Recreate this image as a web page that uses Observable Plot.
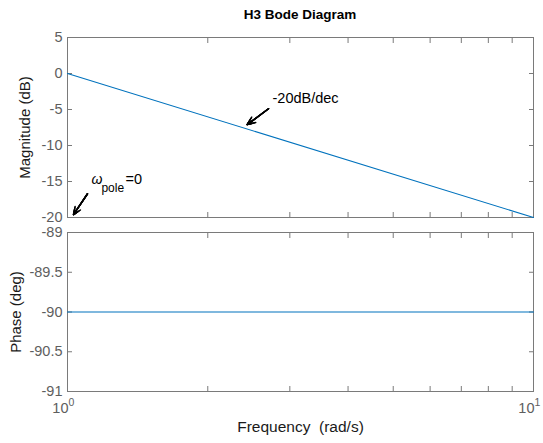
<!DOCTYPE html>
<html><head><meta charset="utf-8">
<script src="https://cdn.jsdelivr.net/npm/d3@7"></script>
<script src="https://cdn.jsdelivr.net/npm/@observablehq/plot@0.6"></script>
<style>
body{margin:0;background:#fff;font-family:"Liberation Sans",Arial,sans-serif;}
#title{height:30px;width:543px;position:relative;}
#title span{position:absolute;left:0;width:600px;text-align:center;top:7px;font-weight:bold;font-size:13.5px;color:#000;}
svg{display:block;overflow:visible;}
#chart svg:nth-child(2){margin-top:-15px;}
</style></head>
<body>
<div id="title"><span>H3 Bode Diagram</span></div>
<div id="chart"></div>
<script>
const freqs = [1, 10];
const magDb = [0, -20];
const phaseDeg = [-90, -90];
const magTicks = [-20, -15, -10, -5, 0, 5];
const phaseTicks = [-91, -90.5, -90, -89.5, -89];
const freqTicks = [1, 2, 3, 4, 5, 6, 7, 8, 9, 10];
const freqLabelTicks = [1, 10];
const freqLabelExp = ["0", "1"];
// annotations (data coordinates)
const slopeArrow = {x1: 2.70, y1: -4.9, x2: 2.43, y2: -7.1, text: "-20dB/dec"};
const poleArrow = {x1: 1.104, y1: -16.7, x2: 1.03, y2: -19.6};
const poleText = {x: 1.12, y: -15.3};

const frameColor = "#7a7a7a";
const tickColor = "#5e5e5e";
const font = "Liberation Sans, Arial, sans-serif";
const lineColor = "#0072BD";

function axes(yTicks, yFmt) {
  return [
    Plot.axisY({anchor: "left", ticks: yTicks, tickSize: -5, tickPadding: 10, stroke: frameColor, color: tickColor, fontSize: 14.5, tickFormat: yFmt, label: null}),
    Plot.axisY({anchor: "right", ticks: yTicks, tickSize: -5, tickFormat: () => "", stroke: frameColor, label: null}),
    Plot.axisX({anchor: "top", ticks: freqTicks, tickSize: -5, tickFormat: () => "", stroke: frameColor, label: null}),
    Plot.axisX({anchor: "bottom", ticks: freqTicks, tickSize: -5, tickFormat: () => "", stroke: frameColor, label: null}),
    Plot.frame({stroke: frameColor})
  ];
}

// filled-looking arrowhead: nested arrow heads
function filledArrow(d) {
  return [10, 8, 6, 4, 2].map(h => Plot.arrow([d], {x1: "x1", y1: "y1", x2: "x2", y2: "y2", stroke: "black", strokeWidth: 1.4, headLength: h, headAngle: 45}));
}

const magData = freqs.map((f, i) => ({f, v: magDb[i]}));
const phaseData = freqs.map((f, i) => ({f, v: phaseDeg[i]}));

const p1 = Plot.plot({
  width: 543, height: 202,
  marginTop: 7, marginBottom: 15, marginLeft: 67, marginRight: 10,
  style: {fontFamily: font, fontSize: "14.5px", background: "transparent", overflow: "visible"},
  x: {type: "log", domain: [1, 10]},
  y: {domain: [-20, 5]},
  marks: [
    ...axes(magTicks, d => d),
    Plot.line(magData, {x: "f", y: "v", stroke: lineColor, strokeWidth: 1.1}),
    ...filledArrow(slopeArrow),
    Plot.text([slopeArrow], {x: "x1", y: "y1", text: "text", textAnchor: "start", dx: 4, dy: -10, fontSize: 14.5, fill: "black"}),
    ...filledArrow(poleArrow),
    Plot.text([poleText], {x: "x", y: "y", text: () => "ω", textAnchor: "start", fontSize: 14, fontStyle: "italic", fill: "black", dx: 1, dy: -4}),
    Plot.text([poleText], {x: "x", y: "y", text: () => "pole", textAnchor: "start", fontSize: 12, fill: "black", dx: 11, dy: 4}),
    Plot.text([poleText], {x: "x", y: "y", text: () => "=0", textAnchor: "start", fontSize: 14.5, fill: "black", dx: 35, dy: -4}),
    Plot.text(["Magnitude (dB)"], {frameAnchor: "left", rotate: -90, dx: -42, fontSize: 15, fill: "#1a1a1a", textAnchor: "middle"})
  ]
});

const p2 = Plot.plot({
  width: 543, height: 226,
  marginTop: 15, marginBottom: 52, marginLeft: 67, marginRight: 10,
  style: {fontFamily: font, fontSize: "14.5px", background: "transparent", overflow: "visible"},
  x: {type: "log", domain: [1, 10]},
  y: {domain: [-91, -89]},
  marks: [
    ...axes(phaseTicks, d => String(d)),
    Plot.line(phaseData, {x: "f", y: "v", stroke: lineColor, strokeWidth: 1.1}),
    Plot.text(freqLabelTicks, {x: d => d, frameAnchor: "bottom", text: () => "10", textAnchor: "end", dx: 1, dy: 21, fontSize: 14.5, fill: tickColor}),
    Plot.text(freqLabelTicks, {x: d => d, frameAnchor: "bottom", text: (d, i) => freqLabelExp[i], textAnchor: "start", dx: 1, dy: 14, fontSize: 10.5, fill: tickColor}),
    Plot.text(["Frequency  (rad/s)"], {frameAnchor: "bottom", dy: 40, fontSize: 15.5, fill: "#1a1a1a"}),
    Plot.text(["Phase (deg)"], {frameAnchor: "left", rotate: -90, dx: -51, fontSize: 15, fill: "#1a1a1a", textAnchor: "middle"})
  ]
});

document.getElementById("chart").append(p1, p2);
</script>
</body></html>
